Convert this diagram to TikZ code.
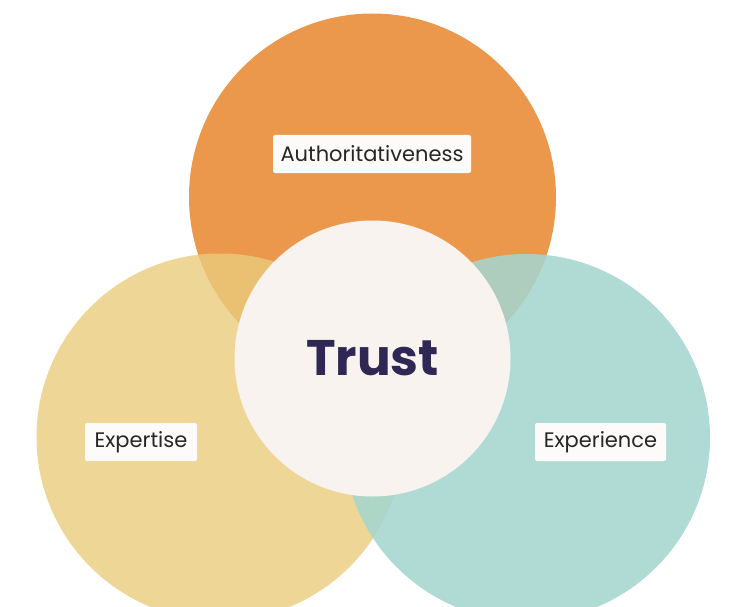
\documentclass[tikz,border=0pt]{standalone}
\usepackage{fontspec}
\setmainfont{Poppins}
\definecolor{orangeC}{HTML}{EC984C}
\definecolor{yellowC}{HTML}{EACC7C}
\definecolor{tealC}{HTML}{A5D6CF}
\definecolor{trustC}{HTML}{F8F3EF}
\definecolor{textC}{HTML}{2F2754}
\definecolor{labelC}{HTML}{262626}
\definecolor{boxC}{HTML}{FDFBFA}
\begin{document}
\begin{tikzpicture}[x=1pt,y=-1pt,
  ring/.style={circle,inner sep=0pt,minimum size=367pt},
  tag/.style={fill=boxC,rounded corners=2pt,inner sep=0pt,minimum height=38pt,text=labelC,font=\fontsize{21}{23}\selectfont}]
\useasboundingbox[fill=white] (0,0) rectangle (747,607);
\begin{scope}
\clip (0,0) rectangle (747,607);
\node[ring,fill=orangeC] (auth) at (372.5,197) {};
\node[ring,fill=yellowC,fill opacity=0.8] (expt) at (220,437) {};
\node[ring,fill=tealC,fill opacity=0.87] (expr) at (526.5,437.5) {};
\node[circle,inner sep=0pt,minimum size=276pt,fill=trustC] (trust) at (372.5,358.5) {};
\end{scope}
\node[text=textC,font=\bfseries\fontsize{50}{56}\selectfont] (trusttxt) at (372.5,358) {Trust};
\node[tag,minimum width=198pt] (authtag) at (372,154) {Authoritativeness};
\node[tag,minimum width=112pt] (expttag) at (141,442) {Expertise};
\node[tag,minimum width=131pt] (exprtag) at (600.5,442) {Experience};
\end{tikzpicture}
\end{document}
